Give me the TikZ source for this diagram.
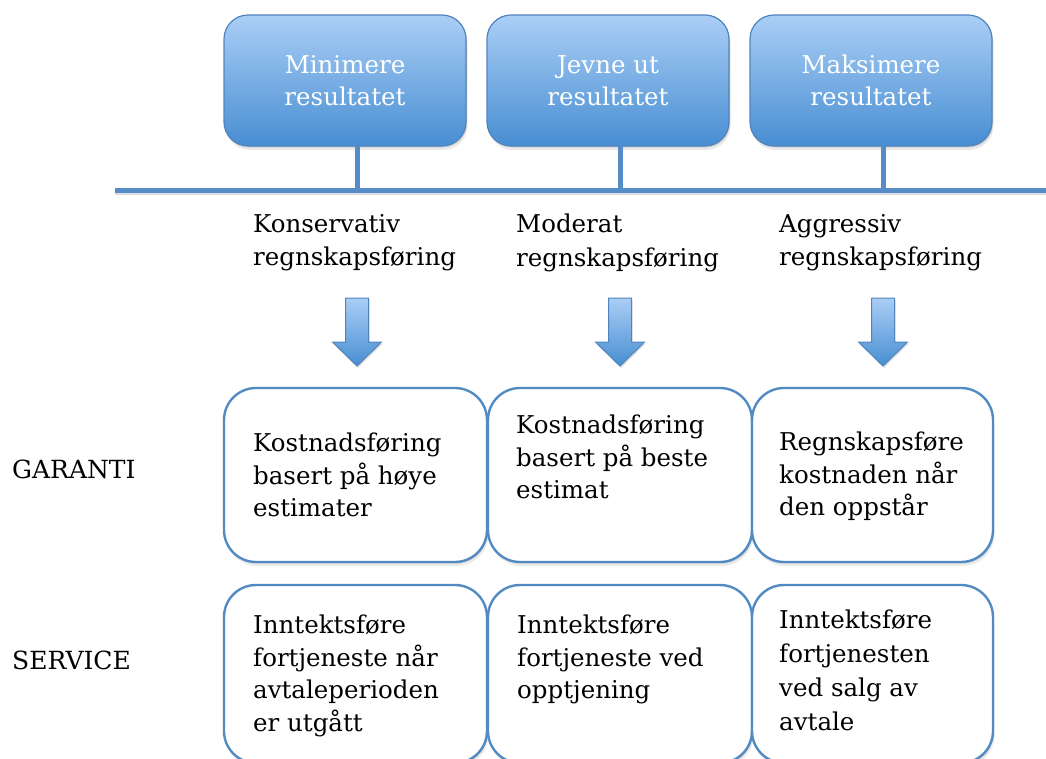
\documentclass[tikz,border=0pt]{standalone}
\usepackage{fontspec}
\setmainfont{DejaVu Serif}
\usetikzlibrary{shadows}

\definecolor{hdrtop}{RGB}{170,206,246}
\definecolor{hdrbot}{RGB}{72,142,210}
\definecolor{hdrline}{RGB}{80,132,190}
\definecolor{busblue}{RGB}{86,140,199}
\definecolor{cellline}{RGB}{82,138,196}

\begin{document}
\begin{tikzpicture}[x=1pt,y=-1pt,
  softshadow/.style={
    drop shadow={shadow xshift=1pt,shadow yshift=-1.5pt,opacity=.12,fill=black},
    drop shadow={shadow xshift=1.5pt,shadow yshift=-4pt,opacity=.08,fill=black}},
  hdrbox/.style={rectangle, rounded corners=24pt, draw=hdrline, line width=1.2pt,
    top color=hdrtop, bottom color=hdrbot, minimum width=242pt, minimum height=131pt,
    outer sep=0pt, inner sep=0pt, anchor=north west, text=white, align=center,
    font=\fontsize{24.5}{32}\selectfont, execute at begin node=\rule{0pt}{19pt}, softshadow},
  cell/.style={rectangle, rounded corners=32pt, draw=cellline, line width=2.4pt,
    fill=white, minimum height=174pt, outer sep=0pt, inner sep=0pt,
    anchor=north west, softshadow},
  txt/.style={inner sep=0pt, anchor=north west, align=left,
    font=\fontsize{24.5}{32.5}\selectfont, execute at begin node=\rule{0pt}{19pt}},
  rowlabel/.style={inner sep=0pt, anchor=base west, font=\fontsize{25}{30}\selectfont},
  bus/.style={draw=busblue, line width=4.5pt,
    preaction={draw=black, opacity=.13, line width=4.5pt, transform canvas={yshift=-2.5pt}}},
  stem/.style={draw=busblue, line width=5pt},
  blockarrow/.style={draw=hdrline, line width=1pt, top color=hdrtop, bottom color=hdrbot,
    drop shadow={shadow xshift=1pt,shadow yshift=-2pt,opacity=.12,fill=black}},
  downarrow/.pic={
    \path[blockarrow] (-11.5,0) -- (11.5,0) -- (11.5,44) -- (24.5,44) -- (0,68)
      -- (-24.5,44) -- (-11.5,44) -- cycle;}
]
\useasboundingbox (0,0) rectangle (1046,758);

% goals
\node[hdrbox] (top1) at (224,15) {Minimere\\resultatet};
\node[hdrbox] (top2) at (487,15) {Jevne ut\\resultatet};
\node[hdrbox] (top3) at (750,15) {Maksimere\\resultatet};

% horizontal bus with the three stems
\coordinate (busL) at (115,190.5);
\coordinate (busR) at (1046,190.5);
\coordinate (j1) at (357,190.5);
\coordinate (j2) at (620,190.5);
\coordinate (j3) at (883,190.5);
\draw[stem] (top1.south -| j1) -- (j1);
\draw[stem] (top2.south -| j2) -- (j2);
\draw[stem] (top3.south -| j3) -- (j3);
\draw[bus] (busL) -- (busR);

% accounting styles
\node[txt, font=\fontsize{24.5}{33.5}\selectfont] (lab1) at (253,214) {Konservativ\\regnskapsføring};
\node[txt, font=\fontsize{24.5}{33.5}\selectfont] (lab2) at (516,214) {Moderat\\regnskapsføring};
\node[txt, font=\fontsize{24.5}{33.5}\selectfont] (lab3) at (779,214) {Aggressiv\\regnskapsføring};

% block arrows
\pic at (357,298) {downarrow};
\pic at (620,298) {downarrow};
\pic at (883,298) {downarrow};

% row labels
\node[rowlabel] (garanti) at (12,478) {GARANTI};
\node[rowlabel] (service) at (12,669) {SERVICE};

% warranty row
\node[cell, minimum width=263pt] (g1) at (224,388) {};
\node[cell, minimum width=264pt] (g2) at (488,388) {};
\node[cell, minimum width=241pt] (g3) at (752,388) {};
\node[txt] (g1t) at (253,433) {Kostnadsføring\\basert på høye\\estimater};
\node[txt] (g2t) at (516,415) {Kostnadsføring\\basert på beste\\estimat};
\node[txt] (g3t) at (779,432) {Regnskapsføre\\kostnaden når\\den oppstår};

% service row
\node[cell, minimum width=263pt, minimum height=178pt] (s1) at (224,585) {};
\node[cell, minimum width=264pt, minimum height=178pt] (s2) at (488,585) {};
\node[cell, minimum width=241pt, minimum height=178pt] (s3) at (752,585) {};
\node[txt, font=\fontsize{24.5}{32.5}\selectfont] (s1t) at (253,615) {Inntektsføre\\fortjeneste når\\avtaleperioden\\er utgått};
\node[txt, font=\fontsize{24.5}{32.5}\selectfont] (s2t) at (517,615) {Inntektsføre\\fortjeneste ved\\opptjening};
\node[txt, font=\fontsize{24.5}{34}\selectfont] (s3t) at (779,610) {Inntektsføre\\fortjenesten\\ved salg av\\avtale};
\end{tikzpicture}
\end{document}
